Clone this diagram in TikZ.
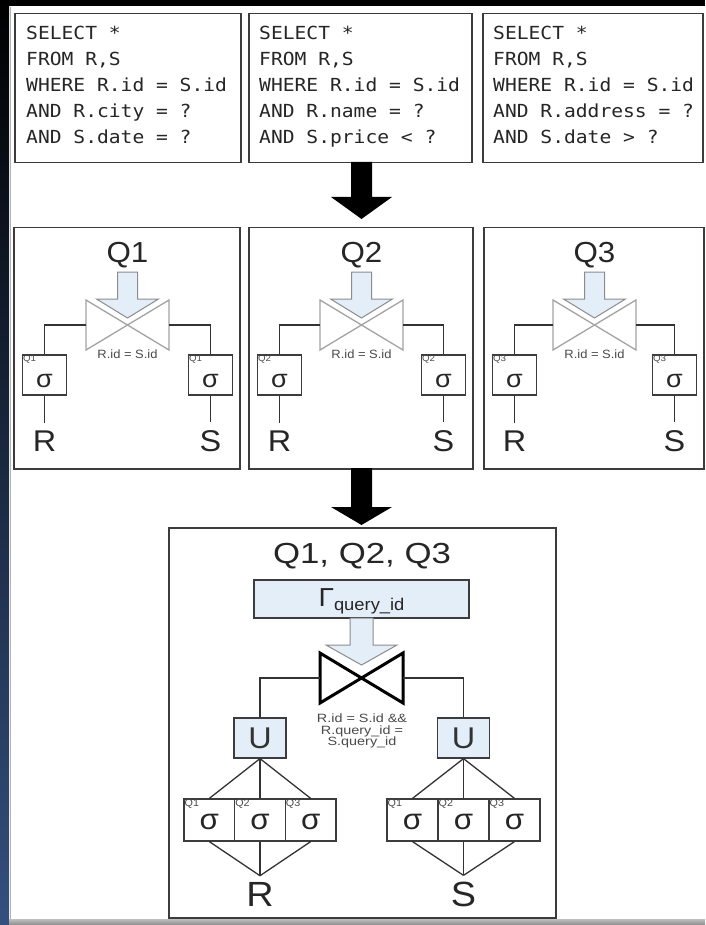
\documentclass[tikz,border=0pt]{standalone}
\usepackage{fontspec}
\setmainfont{Liberation Sans}[FakeStretch=1.08]
\newfontfamily\sqlfont{DejaVu Sans Mono}[FakeStretch=1.09]
\newfontfamily\widesans{Liberation Sans}[FakeStretch=1.2]
\definecolor{lineC}{HTML}{333333}
\definecolor{boxC}{HTML}{3C3C3C}
\definecolor{lblue}{HTML}{E4EEF9}
\definecolor{arrowline}{HTML}{8C8C8C}
\definecolor{tiegray}{HTML}{A3A3A3}
\definecolor{txtgray}{HTML}{4A4A4A}
\definecolor{frameblue}{HTML}{34507E}
\tikzset{
  sqlbox/.style={draw=boxC, line width=1.5pt, inner sep=0pt, anchor=north west},
  sqltext/.style={anchor=base west, inner sep=0pt, text=black!85, font=\sqlfont\fontsize{18}{26}\selectfont},
  panel/.style={draw=boxC, line width=1.5pt, inner sep=0pt, anchor=north west},
  qtitle/.style={anchor=base, inner sep=0pt, font=\fontsize{29}{29}\selectfont, text=black!85},
  tie/.style={draw=none, inner sep=0pt, outer sep=0pt, minimum width=83pt, minimum height=50pt},
  tiegrayline/.style={draw=tiegray, line width=1.3pt, line join=miter},
  tieblackline/.style={draw=black, line width=3pt, line join=miter},
  blockarrow/.style={fill=lblue, draw=arrowline, line width=1pt, line join=miter},
  blackarrow/.style={fill=black},
  joinlabel/.style={inner sep=0pt, text=txtgray, font=\fontsize{12}{12}\selectfont},
  sigbox/.style={draw=boxC, line width=1.2pt, minimum width=44pt, minimum height=40pt, inner sep=0pt, text height=24pt, text depth=0pt, font=\fontsize{25}{25}\selectfont, text=black!85},
  cell/.style={draw=boxC, line width=1.2pt, minimum width=50.67pt, minimum height=42pt, inner sep=0pt, text height=19pt, text depth=0pt, font=\fontsize{29}{29}\selectfont, text=black!85},
  qsup/.style={anchor=north west, inner sep=1pt, font=\fontsize{9}{9}\selectfont, text=txtgray},
  conn/.style={draw=lineC, line width=1.3pt},
  rel/.style={anchor=base, inner sep=8pt, font=\fontsize{30}{30}\selectfont, text=black!85},
  ubox/.style={draw=boxC, fill=lblue, line width=1.2pt, minimum width=52pt, minimum height=40pt, inner sep=0pt, font=\fontsize{30}{30}\selectfont, text=black!80},
  gbox/.style={draw=boxC, fill=lblue, line width=1.2pt, minimum width=215pt, minimum height=38pt, inner sep=0pt, text height=19pt, text depth=3.5pt, font=\fontsize{26}{26}\selectfont, text=black!85},
}
\newcommand\sqlblock[7]{%
  \node[sqltext] (#2a) at (#1,40) {#3};
  \node[sqltext] (#2b) at (#1,66) {#4};
  \node[sqltext] (#2c) at (#1,92) {#5};
  \node[sqltext] (#2d) at (#1,118) {#6};
  \node[sqltext] (#2e) at (#1,144) {#7};
}
\newcommand\qpanel[3]{%
  \pgfmathsetmacro\pc{(#1+#2)/2+1.5}%
  \pgfmathsetmacro\psl{#1+31.5}%
  \pgfmathsetmacro\psr{#2-28.5}%
  \pgfmathsetmacro\pw{#2-#1}%
  \node[panel, minimum width=\pw, minimum height=241] (P#3) at (#1,227) {};
  \node[qtitle] (T#3) at (\pc,262.5) {Q#3};
  \filldraw[blockarrow] (\pc-10,272) -- (\pc+10,272) -- (\pc+10,299) -- (\pc+31,299) -- (\pc,318) -- (\pc-31,299) -- (\pc-10,299) -- cycle;
  \node[tie] (J#3) at (\pc,325) {};
  \draw[tiegrayline] (J#3.north west) -- (J#3.south east) -- (J#3.north east) -- (J#3.south west) -- cycle;
  \node[joinlabel] (JL#3) at (\pc,354) {R.id = S.id};
  \node[sigbox] (SL#3) at (\psl,375) {σ};
  \node[sigbox] (SR#3) at (\psr,375) {σ};
  \node[qsup] (QL#3) at (SL#3.north west) {Q#3};
  \node[qsup] (QR#3) at (SR#3.north west) {Q#3};
  \node[rel] (R#3) at (\psl,451.5) {R};
  \node[rel] (S#3) at (\psr,451.5) {S};
  \draw[conn] (J#3.west) -| (SL#3.north);
  \draw[conn] (J#3.east) -| (SR#3.north);
  \draw[conn] (SL#3.south) -- (R#3.north);
  \draw[conn] (SR#3.south) -- (S#3.north);
}
\begin{document}
\begin{tikzpicture}[x=1pt, y=-1pt]
  \useasboundingbox (0,0) rectangle (705,925);
  \fill[white] (0,0) rectangle (705,925);
  % frame
  \fill[black] (0,0) rectangle (705,6);
  \shade[top color=black, bottom color=frameblue] (0,0) rectangle (9,925);
  \draw[black!30, line width=1pt] (10.5,925) -- (10.5,7);
  \shade[top color=black!25, bottom color=black!45] (9,919) rectangle (705,925);
  % SQL boxes
  \node[sqlbox, minimum width=226, minimum height=149] (B1) at (14,13) {};
  \node[sqlbox, minimum width=223, minimum height=149] (B2) at (248,13) {};
  \node[sqlbox, minimum width=220, minimum height=149] (B3) at (482,13) {};
  \sqlblock{26}{qa}{SELECT *}{FROM R,S}{WHERE R.id = S.id}{AND R.city = ?}{AND S.date = ?}
  \sqlblock{259}{qb}{SELECT *}{FROM R,S}{WHERE R.id = S.id}{AND R.name = ?}{AND S.price < ?}
  \sqlblock{493}{qc}{SELECT *}{FROM R,S}{WHERE R.id = S.id}{AND R.address = ?}{AND S.date > ?}
  % arrow 1
  \fill[blackarrow] (351,162) -- (372,162) -- (372,197) -- (392,197) -- (361.5,219) -- (331,197) -- (351,197) -- cycle;
  % middle panels
  \qpanel{13}{239}{1}
  \qpanel{248}{472}{2}
  \qpanel{483}{703}{3}
  % arrow 2
  \fill[blackarrow] (351,468) -- (372,468) -- (372,507) -- (392,507) -- (361.5,525) -- (331,507) -- (351,507) -- cycle;
  % bottom panel
  \node[panel, minimum width=387, minimum height=390] (PB) at (168,527) {};
  \node[qtitle, font=\widesans\fontsize{29}{29}\selectfont] (TB) at (362,563) {Q1, Q2, Q3};
  \node[gbox] (G) at (361.5,599) {Γ\raisebox{-4pt}{\fontsize{17}{17}\selectfont query\_id}};
  \filldraw[blockarrow] (350,618) -- (373,618) -- (373,645) -- (397,645) -- (361.5,665) -- (326,645) -- (350,645) -- cycle;
  \node[tie] (JB) at (361.5,678) {};
  \draw[tieblackline] (JB.north west) -- (JB.south east) -- (JB.north east) -- (JB.south west) -- cycle;
  \node[joinlabel, align=center, anchor=north, font=\widesans\fontsize{12}{11.5}\selectfont] (JLB) at (362,714) {R.id = S.id \&\&\\R.query\_id =\\S.query\_id};
  \node[ubox] (UL) at (260,738) {U};
  \node[ubox] (UR) at (463.5,738) {U};
  \draw[conn] (JB.west) -| (UL.north);
  \draw[conn] (JB.east) -| (UR.north);
  % sigma cells
  \node[cell] (CL1) at (209.33,820) {σ};
  \node[cell] (CL2) at (260,820) {σ};
  \node[cell] (CL3) at (310.67,820) {σ};
  \node[cell, minimum width=51] (CR1) at (412.5,820) {σ};
  \node[cell, minimum width=51] (CR2) at (463.5,820) {σ};
  \node[cell, minimum width=51] (CR3) at (514.5,820) {σ};
  \foreach \n/\q in {CL1/Q1,CL2/Q2,CL3/Q3,CR1/Q1,CR2/Q2,CR3/Q3}{
    \node[qsup, font=\fontsize{10}{10}\selectfont] (\n q) at (\n.north west) {\q};
  }
  \node[rel, inner sep=6.5pt, font=\fontsize{35}{35}\selectfont] (RB) at (260,906.5) {R};
  \node[rel, inner sep=6.5pt, font=\fontsize{35}{35}\selectfont] (SB) at (463.5,906.5) {S};
  \foreach \n in {CL1,CL2,CL3}{
    \draw[conn] (UL.south) -- (\n.north);
    \draw[conn] (\n.south) -- (RB.north);
  }
  \foreach \n in {CR1,CR2,CR3}{
    \draw[conn] (UR.south) -- (\n.north);
    \draw[conn] (\n.south) -- (SB.north);
  }
\end{tikzpicture}
\end{document}
